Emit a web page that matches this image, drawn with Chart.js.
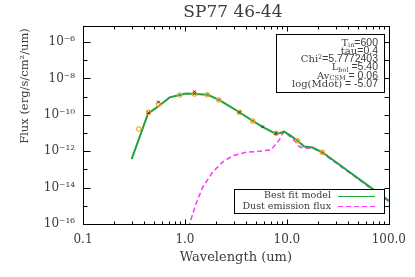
<!DOCTYPE html>
<html>
<head>
<meta charset="utf-8">
<script src="https://cdn.jsdelivr.net/npm/chart.js@4.4.0/dist/chart.umd.min.js"></script>
<style>
  html, body { margin: 0; padding: 0; background: #fff; }
  #wrap { width: 415px; height: 277px; }
</style>
</head>
<body>
<div id="wrap"><canvas id="sed" width="415" height="277"></canvas></div>
<script>
// wavelengths in um, fluxes in erg/s/cm2/um
var modelWave = [0.30, 0.435, 0.544, 0.708, 0.887, 1.03, 1.68, 2.18, 2.73, 3.42, 4.62, 5.78, 7.81, 8.6, 9.42, 10.96, 12.7, 14.8, 17.8, 22.3, 100];
var modelFlux = [3.7e-13, 1.2e-10, 2.8e-10, 9.1e-10, 1.23e-9, 1.5e-9, 1.26e-9, 6.5e-10, 3.0e-10, 1.38e-10, 4.6e-11, 2.2e-11, 9.0e-12, 1.0e-11, 1.18e-11, 6.9e-12, 3.8e-12, 1.8e-12, 1.6e-12, 8.7e-13, 1.9e-15];

var dustWave = [1.0, 1.11, 1.29, 1.50, 1.88, 2.35, 2.94, 3.98, 5.37, 6.98, 8.42, 9.0, 9.42, 11.35, 13.2, 14.8, 17.8, 22.3, 100];
var dustFlux = [2.5e-17, 1.0e-16, 1.4e-15, 1.1e-14, 7.4e-14, 2.6e-13, 5.6e-13, 8.7e-13, 1.0e-12, 1.17e-12, 4.2e-12, 8.9e-12, 1.15e-11, 5.1e-12, 1.8e-12, 1.45e-12, 1.55e-12, 7.9e-13, 1.74e-15];

var obsWave = [0.353, 0.44, 0.55, 0.887, 1.24, 1.65, 2.15, 3.42, 4.62, 7.81, 12.7, 22.3];
var obsFlux = [1.66e-11, 1.38e-10, 3.8e-10, 1.23e-9, 1.38e-9, 1.26e-9, 6.5e-10, 1.38e-10, 4.6e-11, 9.6e-12, 3.8e-12, 8.7e-13];

var crossWave = [0.44, 0.55, 1.24, 3.42, 5.78, 7.81];
var crossFlux = [1.3e-10, 5.0e-10, 1.86e-9, 1.38e-10, 2.2e-11, 9.6e-12];

var xTicks = [0.1, 1, 10, 100];
var xTickLabels = ['0.1', '1.0', '10.0', '100.0'];
var yTicks = [1e-16, 1e-14, 1e-12, 1e-10, 1e-8, 1e-6];

var titleText = 'SP77 46-44';
var xTitle = 'Wavelength (um)';
var yTitle = 'Flux (erg/s/cm\u00b2/um)';
var legendLabels = ['Best fit model', 'Dust emission flux'];

var colors = {
  model: '#1fa33c',
  dust: '#ff33ff',
  obs: '#f5a030',
  cross: '#333333',
  text: '#3c3c3c'
};

var serif = '"DejaVu Serif", serif';
var sans = '"Liberation Sans", Arial, sans-serif';

// info box lines: segments with text, kind (n normal, b sub, p sup), font
var infoLines = [
  [['T', 'n', serif], ['in', 'b', serif], ['=600', 'n', sans]],
  [['tau', 'n', serif], ['=0.4', 'n', sans]],
  [['Chi', 'n', serif], ['2', 'p', serif], ['=5.7772403', 'n', sans]],
  [['L', 'n', serif], ['bol', 'b', serif], [' =5.40', 'n', sans]],
  [['Av', 'n', serif], ['CSM', 'b', serif], [' = 0.06', 'n', sans]],
  [['log(Mdot)', 'n', serif], [' = -5.07', 'n', sans]]
];

function pairs(xs, ys) {
  return xs.map(function (x, i) {
    return { x: x, y: ys[i] };
  });
}

var sup = { '-': '\u207b', '0': '\u2070', '1': '\u00b9', '2': '\u00b2', '3': '\u00b3', '4': '\u2074', '5': '\u2075', '6': '\u2076', '7': '\u2077', '8': '\u2078', '9': '\u2079' };
function expLabel(v) {
  var e = String(Math.round(Math.log10(v)));
  return '10' + e.split('').map(function (c) { return sup[c]; }).join('');
}

function drawSegments(ctx, segs, right, y) {
  var parts = segs.map(function (s) {
    var size = s[1] === 'n' ? (s[2] === sans ? 10.5 : 10) : 6.5;
    ctx.font = size + 'px ' + s[2];
    return { t: s[0], k: s[1], f: ctx.font, w: ctx.measureText(s[0]).width };
  });
  var total = parts.reduce(function (a, p) { return a + p.w; }, 0);
  var x = right - total;
  parts.forEach(function (p) {
    ctx.font = p.f;
    var dy = p.k === 'b' ? 1.5 : (p.k === 'p' ? -3.5 : 0);
    ctx.fillText(p.t, x, y + dy);
    x += p.w;
  });
}

var decor = {
  id: 'decor',
  afterDraw: function (chart) {
    var ctx = chart.ctx, a = chart.chartArea;
    var xs = chart.scales.x, ys = chart.scales.y;
    ctx.save();
    ctx.strokeStyle = '#000';
    ctx.fillStyle = colors.text;
    ctx.lineWidth = 1;

    // frame and inward ticks
    var L = Math.round(a.left) + 0.5, R = Math.round(a.right) + 0.5;
    var T = Math.round(a.top) + 0.5, B = Math.round(a.bottom) + 0.5;
    ctx.strokeRect(L, T, R - L, B - T);
    ctx.beginPath();
    [0.1, 1, 10].forEach(function (d) {
      for (var k = 1; k < 10; k++) {
        var x = Math.round(xs.getPixelForValue(d * k)) + 0.5;
        var len = k === 1 ? 5 : 3;
        ctx.moveTo(x, B); ctx.lineTo(x, B - len);
        ctx.moveTo(x, T); ctx.lineTo(x, T + len);
      }
    });
    for (var e = -16; e <= -6; e++) {
      var y = Math.round(ys.getPixelForValue(Math.pow(10, e))) + 0.5;
      var l = e % 2 === 0 ? 7 : 4;
      ctx.moveTo(L, y); ctx.lineTo(L + l, y);
      ctx.moveTo(R, y); ctx.lineTo(R - 5, y);
    }
    ctx.stroke();

    // title
    ctx.textAlign = 'center';
    ctx.textBaseline = 'middle';
    ctx.font = '17px ' + serif;
    ctx.fillText(titleText, (a.left + a.right) / 2 - 3, 13);

    // y title
    ctx.save();
    ctx.translate(25, 86);
    ctx.rotate(-Math.PI / 2);
    ctx.font = '11.5px ' + serif;
    ctx.fillText(yTitle, 0, 0);
    ctx.restore();

    // info box
    ctx.fillStyle = '#fff';
    ctx.fillRect(276.5, 34.5, 108, 58);
    ctx.strokeRect(276.5, 34.5, 108, 58);
    ctx.fillStyle = colors.text;
    ctx.textAlign = 'left';
    ctx.textBaseline = 'alphabetic';
    infoLines.forEach(function (segs, i) {
      drawSegments(ctx, segs, 378, 45.5 + i * 8.3);
    });

    // legend
    ctx.fillStyle = '#fff';
    ctx.fillRect(234.5, 189.5, 150, 24);
    ctx.strokeRect(234.5, 189.5, 150, 24);
    ctx.fillStyle = colors.text;
    ctx.font = '9.5px ' + serif;
    ctx.textAlign = 'right';
    ctx.textBaseline = 'middle';
    ctx.fillText(legendLabels[0], 331, 196);
    ctx.fillText(legendLabels[1], 331, 206.5);
    ctx.lineWidth = 1.2;
    ctx.strokeStyle = colors.model;
    ctx.beginPath(); ctx.moveTo(338, 196.5); ctx.lineTo(375, 196.5); ctx.stroke();
    ctx.strokeStyle = colors.dust;
    ctx.setLineDash([5, 3]);
    ctx.beginPath(); ctx.moveTo(338, 206.5); ctx.lineTo(375, 206.5); ctx.stroke();
    ctx.restore();
  }
};

new Chart(document.getElementById('sed'), {
  type: 'scatter',
  data: {
    datasets: [
      {
        label: 'obs',
        data: pairs(obsWave, obsFlux),
        showLine: false,
        pointStyle: 'circle',
        pointRadius: 2.2,
        borderColor: colors.obs,
        backgroundColor: 'rgba(0,0,0,0)',
        borderWidth: 1.1,
        order: 1
      },
      {
        label: 'x',
        data: pairs(crossWave, crossFlux),
        showLine: false,
        pointStyle: 'crossRot',
        pointRadius: 2,
        borderColor: colors.cross,
        borderWidth: 1,
        order: 0
      },
      {
        label: legendLabels[0],
        data: pairs(modelWave, modelFlux),
        showLine: true,
        borderColor: colors.model,
        borderWidth: 2,
        pointRadius: 0,
        tension: 0,
        order: 2
      },
      {
        label: legendLabels[1],
        data: pairs(dustWave, dustFlux),
        showLine: true,
        borderColor: colors.dust,
        borderWidth: 1.5,
        borderDash: [5, 3],
        pointRadius: 0,
        tension: 0,
        order: 3
      }
    ]
  },
  options: {
    responsive: false,
    animation: false,
    devicePixelRatio: 1,
    layout: { padding: { top: 26, right: 25, left: 0, bottom: 0 } },
    plugins: { legend: { display: false }, tooltip: { enabled: false }, title: { display: false } },
    scales: {
      x: {
        type: 'logarithmic',
        min: 0.1,
        max: 100,
        grid: { display: false, drawTicks: false },
        border: { display: false },
        afterBuildTicks: function (s) {
          s.ticks = xTicks.map(function (v) { return { value: v }; });
        },
        afterFit: function (s) { s.height = 53; },
        ticks: {
          autoSkip: false,
          maxRotation: 0,
          padding: 9,
          color: colors.text,
          font: { family: serif, size: 12 },
          callback: function (v) { return xTickLabels[xTicks.indexOf(v)]; }
        },
        title: {
          display: true,
          text: xTitle,
          color: colors.text,
          font: { family: serif, size: 13 },
          padding: { top: 0, bottom: 12 }
        }
      },
      y: {
        type: 'logarithmic',
        min: 1e-16,
        max: 7.6e-6,
        grid: { display: false, drawTicks: false },
        border: { display: false },
        afterBuildTicks: function (s) {
          s.ticks = yTicks.map(function (v) { return { value: v }; });
        },
        afterFit: function (s) { s.width = 83; },
        ticks: {
          autoSkip: false,
          padding: 8,
          color: colors.text,
          font: { family: serif, size: 12 },
          callback: function (v) { return expLabel(v); }
        }
      }
    }
  },
  plugins: [decor]
});
</script>
</body>
</html>
